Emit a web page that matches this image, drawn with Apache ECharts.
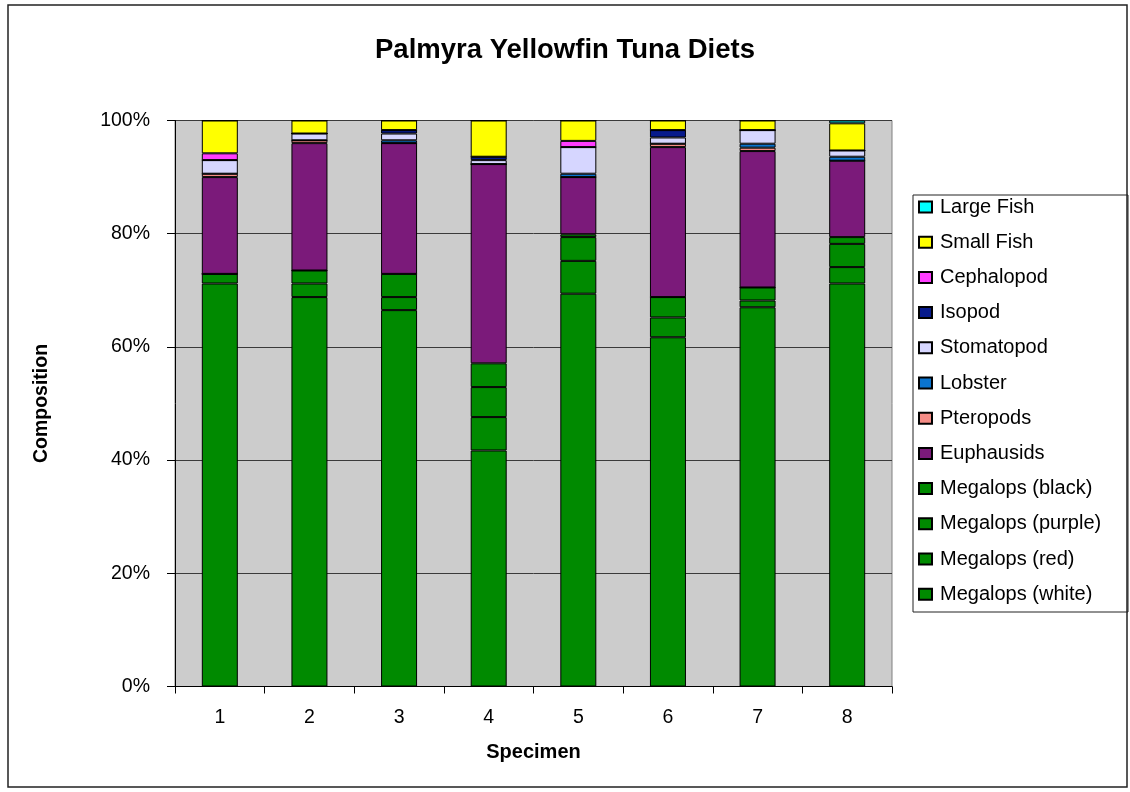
<!DOCTYPE html>
<html>
<head>
<meta charset="utf-8">
<title>Palmyra Yellowfin Tuna Diets</title>
<script src="https://cdn.jsdelivr.net/npm/echarts@6/dist/echarts.min.js"></script>
<style>
  html, body { margin: 0; padding: 0; background: #ffffff; }
  #chart { width: 1130px; height: 792px; }
</style>
</head>
<body>
<div id="chart"></div>
<script>
// Specimens along the x axis
const categories = ['1', '2', '3', '4', '5', '6', '7', '8'];

// Diet composition (% of stomach contents), listed from the bottom of each stack upwards
const megalopsWhite  = [71.2, 68.8, 66.5, 41.7, 69.4, 61.7, 67.0, 71.2];
const megalopsRed    = [1.7, 2.4, 2.3, 5.9, 5.8, 3.5, 1.2, 2.9];
const megalopsPurple = [0, 2.3, 4.1, 5.3, 4.2, 3.6, 2.3, 4.1];
const megalopsBlack  = [0, 0, 0, 4.2, 0.5, 0, 0, 1.2];
const euphausids     = [17.1, 22.5, 23.1, 35.2, 10.1, 26.5, 24.1, 13.5];
const pteropods      = [0.6, 0.5, 0, 0, 0, 0.6, 0.6, 0];
const lobster        = [0, 0, 0.5, 0, 0.6, 0, 0.7, 0.7];
const stomatopod     = [2.4, 1.2, 1.2, 0.7, 4.7, 1.1, 2.4, 1.1];
const isopod         = [0, 0, 0.6, 0.6, 0, 1.3, 0, 0];
const cephalopod     = [1.2, 0, 0, 0, 1.1, 0, 0, 0];
const smallFish      = [5.8, 2.3, 1.7, 6.4, 3.6, 1.7, 1.7, 4.8];
const largeFish      = [0, 0, 0, 0, 0, 0, 0, 0.5];

// Y axis ticks
const yTicks = [0, 20, 40, 60, 80, 100];

const seriesDefs = [
  { name: 'Megalops (white)',  data: megalopsWhite,  color: '#008a00' },
  { name: 'Megalops (red)',    data: megalopsRed,    color: '#008a00' },
  { name: 'Megalops (purple)', data: megalopsPurple, color: '#008a00' },
  { name: 'Megalops (black)',  data: megalopsBlack,  color: '#008a00' },
  { name: 'Euphausids',        data: euphausids,     color: '#7b1a7a' },
  { name: 'Pteropods',         data: pteropods,      color: '#f58c86' },
  { name: 'Lobster',           data: lobster,        color: '#0a74cf' },
  { name: 'Stomatopod',        data: stomatopod,     color: '#d6d6ff' },
  { name: 'Isopod',            data: isopod,         color: '#071a8c' },
  { name: 'Cephalopod',        data: cephalopod,     color: '#ff3dff' },
  { name: 'Small Fish',        data: smallFish,      color: '#ffff00' },
  { name: 'Large Fish',        data: largeFish,      color: '#00ffff' }
];

const FONT = 'Liberation Sans';

const chart = echarts.init(document.getElementById('chart'), null, { renderer: 'canvas' });

const option = {
  animation: false,
  backgroundColor: '#ffffff',
  title: {
    text: 'Palmyra Yellowfin Tuna Diets',
    left: 'center',
    top: 31,
    textStyle: { fontFamily: FONT, fontSize: 27.5, fontWeight: 'bold', color: '#000' }
  },
  legend: {
    orient: 'vertical',
    left: 918,
    top: 197,
    icon: 'rect',
    itemWidth: 13,
    itemHeight: 11,
    itemGap: 15.2,
    padding: 0,
    data: seriesDefs.map(s => s.name).reverse(),
    textStyle: { fontFamily: FONT, fontSize: 20, color: '#000', lineHeight: 20, padding: [0, 0, 0, 3] }
  },
  grid: {
    left: 175,
    top: 120.5,
    right: 238,
    bottom: 105.5,
    show: true,
    backgroundColor: '#cccccc',
    borderColor: '#808080',
    borderWidth: 1,
    containLabel: false
  },
  xAxis: {
    type: 'category',
    data: categories,
    name: 'Specimen',
    nameLocation: 'middle',
    nameGap: 56,
    nameTextStyle: { fontFamily: FONT, fontSize: 20, fontWeight: 'bold', color: '#000' },
    axisLine: { lineStyle: { color: '#000', width: 1 } },
    axisTick: { show: true, alignWithLabel: false, length: 7, lineStyle: { color: '#000' } },
    axisLabel: { fontFamily: FONT, fontSize: 19.5, color: '#000', margin: 21 },
    splitLine: { show: false }
  },
  yAxis: {
    type: 'value',
    min: yTicks[0],
    max: yTicks[yTicks.length - 1],
    interval: yTicks[1] - yTicks[0],
    name: 'Composition',
    nameLocation: 'middle',
    nameGap: 123,
    nameTextStyle: { fontFamily: FONT, fontSize: 19.5, fontWeight: 'bold', color: '#000' },
    axisLine: { show: true, lineStyle: { color: '#000', width: 1 } },
    axisTick: { show: true, inside: false, length: 8, lineStyle: { color: '#000' } },
    axisLabel: { fontFamily: FONT, fontSize: 19.5, color: '#000', margin: 25, formatter: '{value}%' },
    splitLine: { show: true, lineStyle: { color: '#3a3a3a', width: 1 } }
  },
  series: seriesDefs.map(s => ({
    name: s.name,
    type: 'bar',
    stack: 'diet',
    data: s.data,
    barWidth: 36,
    itemStyle: { color: s.color, borderColor: '#000', borderWidth: 1 },
    emphasis: { disabled: true }
  })),
  graphic: [
    // outer chart frame
    {
      type: 'rect',
      shape: { x: 8, y: 5, width: 1119, height: 782 },
      style: { fill: 'none', stroke: '#222', lineWidth: 1.5 },
      silent: true, z: 100
    },
    // legend frame
    {
      type: 'rect',
      shape: { x: 913, y: 195, width: 215, height: 417 },
      style: { fill: 'none', stroke: '#222', lineWidth: 1 },
      silent: true, z: 100
    }
  ]
};

chart.setOption(option);
</script>
</body>
</html>
